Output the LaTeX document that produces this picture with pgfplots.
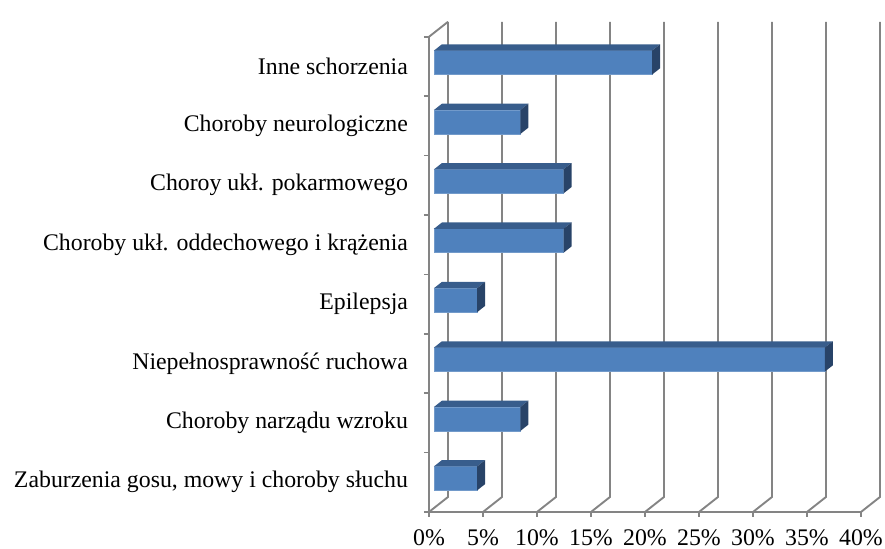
\documentclass[border=0pt]{standalone}
\usepackage{pgfplots}
\pgfplotsset{compat=1.18}
\usepackage{pgfplotstable}
\usepackage{fontspec}
\setmainfont{Liberation Serif}
\definecolor{frontc}{RGB}{79,129,189}
\definecolor{capc}{RGB}{56,93,140}
\definecolor{sidec}{RGB}{40,67,104}
\definecolor{gridc}{RGB}{132,132,132}
\newcommand{\lblfont}{\fontsize{11.9}{14}\selectfont}

% category index, value in percent
\pgfplotstableread{
cat val
0 4.0
1 8.0
2 36.2
3 4.0
4 12.0
5 12.0
6 8.0
7 20.2
}\data

% oblique depth vector (axis units) and bar geometry
\def\ddx{1.759}
\def\ddy{0.2525}
\def\da{0.26}
\def\db{0.68}
\def\hh{0.202}

\begin{document}
\begin{tikzpicture}
\begin{axis}[
  at={(0,0)}, anchor=south west,
  x=5.4pt, y=29.7pt,
  xmin=0, xmax=40, ymin=0, ymax=8,
  clip=false,
  axis lines=left,
  axis line style={draw=gridc, line width=0.95pt, -},
  xtick={0,5,...,40},
  xticklabel={\pgfmathprintnumber{\tick}\%},
  ytick={0.5,1.5,...,7.5},
  yticklabels={Zaburzenia gosu{,} mowy i choroby słuchu,
    Choroby narządu wzroku,
    Niepełnosprawność ruchowa,
    Epilepsja,
    Choroby ukł. oddechowego i krążenia,
    Choroy ukł. pokarmowego,
    Choroby neurologiczne,
    Inne schorzenia},
  minor ytick={0,1,...,8},
  tick align=outside,
  major tick length=2.5pt,
  minor tick length=2.5pt,
  major y tick style={draw=none},
  minor y tick style={draw=gridc, line width=0.8pt},
  major x tick style={draw=gridc, line width=0.8pt},
  tick label style={font=\lblfont},
  xticklabel style={yshift=-3pt},
  yticklabel style={xshift=-4.5pt},
  /pgf/number format/assume math mode=true,
]
% back wall and floor grid
\pgfplotsinvokeforeach{0,5,...,40}{
  \draw[gridc, line width=0.95pt] (axis cs:#1,0) -- (axis cs:#1+\ddx,\ddy) -- (axis cs:#1+\ddx,8+\ddy);
}
\draw[gridc, line width=0.95pt] (axis cs:0,8) -- (axis cs:\ddx,8+\ddy);

% 3D bars from the table
\pgfplotsinvokeforeach{0,...,7}{
  \pgfplotstablegetelem{#1}{val}\of\data
  \let\v\pgfplotsretval
  \pgfmathsetmacro\xl{\ddx*\da}
  \pgfmathsetmacro\xr{\v+\ddx*\da}
  \pgfmathsetmacro\xlb{\ddx*\db}
  \pgfmathsetmacro\xrb{\v+\ddx*\db}
  \pgfmathsetmacro\yb{#1+0.5-\hh+\ddy*\da}
  \pgfmathsetmacro\yt{#1+0.5+\hh+\ddy*\da}
  \pgfmathsetmacro\ybb{#1+0.5-\hh+\ddy*\db}
  \pgfmathsetmacro\ytb{#1+0.5+\hh+\ddy*\db}
  \edef\tmp{%
    \noexpand\addplot[fill=frontc, draw=frontc!80!white, line width=0.3pt] coordinates {(\xl,\yb) (\xr,\yb) (\xr,\yt) (\xl,\yt)} --cycle;
    \noexpand\addplot[fill=capc, draw=none] coordinates {(\xl,\yt) (\xr,\yt) (\xrb,\ytb) (\xlb,\ytb)} --cycle;
    \noexpand\addplot[fill=sidec, draw=none] coordinates {(\xr,\yb) (\xrb,\ybb) (\xrb,\ytb) (\xr,\yt)} --cycle;
  }%
  \tmp
}
\end{axis}
\pgfresetboundingbox
\path (-214.5pt,-18.5pt) rectangle (228pt,256pt);
\end{tikzpicture}
\end{document}
